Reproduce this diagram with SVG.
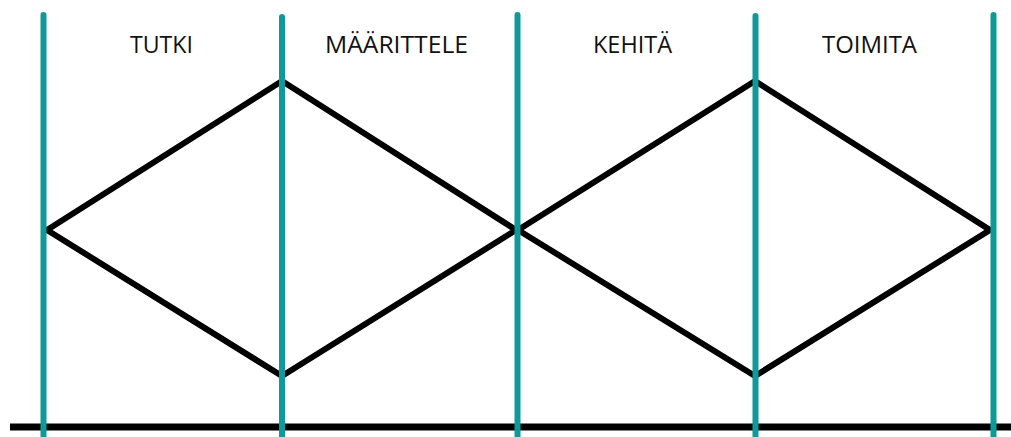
<svg xmlns="http://www.w3.org/2000/svg" width="1011" height="437" viewBox="0 0 1011 437">
<style>
.div{stroke:#0f9a9a;stroke-width:6;stroke-linecap:round;fill:none}
.dia{stroke:#000;stroke-width:6;fill:none;stroke-linejoin:miter}
.lbl{font-family:"Open Sans","Liberation Sans",sans-serif;font-size:24px;fill:#111;text-anchor:middle}
</style>
<rect width="1011" height="437" fill="#fff"/>
<g id="connectors">
<polygon class="dia" points="47,230 282,81 516,230 282,376"/>
<polygon class="dia" points="518,230 755,81 990,230 755,376"/>
<line x1="10" y1="427" x2="1011" y2="427" stroke="#000" stroke-width="7"/>
<line class="div" x1="43.5" y1="15" x2="43.5" y2="445"/>
<line class="div" x1="282" y1="17" x2="282" y2="445"/>
<line class="div" x1="517.5" y1="15" x2="517.5" y2="445"/>
<line class="div" x1="755.5" y1="16" x2="755.5" y2="445"/>
<line class="div" x1="993.5" y1="15" x2="993.5" y2="445"/>
</g>
<g id="tutki"><text class="lbl" x="161.5" y="53" textLength="63" lengthAdjust="spacingAndGlyphs">TUTKI</text></g>
<g id="maarittele"><text class="lbl" x="396.5" y="53" textLength="143" lengthAdjust="spacingAndGlyphs">MÄÄRITTELE</text></g>
<g id="kehita"><text class="lbl" x="632.5" y="53" textLength="79" lengthAdjust="spacingAndGlyphs">KEHITÄ</text></g>
<g id="toimita"><text class="lbl" x="869.5" y="53" textLength="95" lengthAdjust="spacingAndGlyphs">TOIMITA</text></g>
</svg>
